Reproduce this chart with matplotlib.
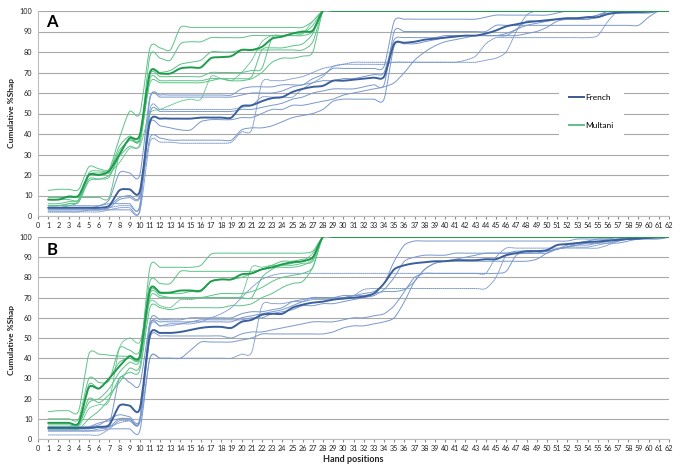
import matplotlib
matplotlib.use('Agg')
import matplotlib.pyplot as plt
from matplotlib.path import Path
from matplotlib.patches import PathPatch
from matplotlib.lines import Line2D
import numpy as np

plt.rcParams['font.family'] = ['Lato', 'DejaVu Sans']

# hand positions 1..62
positions = list(range(1, 63))

# ---------------- Panel A ----------------
french_a_mean = [4, 4, 4, 4, 4, 4, 5, 12.5, 13, 12,
                 46, 47.5, 47.5, 47.5, 47.5, 48, 48, 48, 48, 53.5,
                 54, 56, 57.5, 58, 60.5, 62, 63, 63.5, 66, 66,
                 66.5, 67, 67.5, 68, 84, 84.5, 85, 86, 86.5, 87,
                 87.5, 88, 88, 89, 90.5, 92.5, 93.5, 94.5, 95, 95.5,
                 96, 96.5, 96.5, 97, 97, 98.5, 99.2, 99.4, 99.5, 99.7, 100, 100]

multani_a_mean = [8, 8, 9.5, 10, 20, 20, 22, 30, 38, 39.5,
                  70, 69.5, 69.5, 72, 72.5, 72.5, 77, 77.5, 78, 81,
                  81, 82.5, 86.5, 87.5, 89, 90, 90.5,
                  100, 100, 100, 100, 100, 100, 100, 100, 100, 100,
                  100, 100, 100, 100, 100, 100, 100, 100, 100, 100,
                  100, 100, 100, 100, 100, 100, 100, 100, 100, 100,
                  100, 100, 100, 100, 100]

fr_a1 = [5, 5, 5, 5, 5, 5, 6, 6, 6, 5,
         57, 59, 59, 59, 59, 59, 59, 59, 59, 62,
         63, 63, 63, 64, 64, 64, 67, 69, 72, 72,
         72, 72, 72, 73, 95, 96, 96, 96, 96, 96,
         96, 96, 96, 97, 98, 98, 98, 98, 98, 98,
         99, 100, 100, 100, 100, 100, 100, 100, 100, 100, 100, 100]
fr_a2 = [4, 4, 4, 4, 4, 5, 8, 21, 21, 20,
         58, 58, 58, 58, 58, 58, 58, 58, 58, 59,
         60, 60, 60, 61, 63, 64, 65, 66, 66, 67,
         67, 68, 69, 70, 86, 87, 87, 87, 87, 88,
         88, 88, 88, 88, 88, 88, 91, 95, 95, 95,
         96, 96, 96, 96, 98, 99, 99, 99, 99, 99, 100, 100]
fr_a3 = [2, 2, 2, 2, 3, 3, 4, 5, 5, 5,
         52, 52, 52, 52, 52, 52, 52, 52, 52, 53,
         54, 58, 58, 58, 58, 62, 65, 68, 73, 74,
         75, 75, 75, 75, 75, 75, 75, 75, 75, 75,
         75, 75, 75, 76, 77, 80, 90, 98, 100, 100,
         100, 100, 100, 100, 100, 100, 100, 100, 100, 100, 100, 100]
fr_a4 = [2, 2, 2, 2, 2, 2, 3, 4, 4, 2,
         36, 36, 36, 35.5, 35.5, 35.5, 35.5, 35.5, 36, 41,
         42, 65, 66, 66, 67, 68, 70, 72, 73, 74,
         74, 74, 74, 74, 75, 75, 75, 75, 75, 75,
         75, 76, 78, 84, 87, 87, 87, 87, 87, 87,
         87, 87, 87, 87, 88, 95, 100, 100, 100, 100, 100, 100]
fr_a5 = [3, 3, 3, 3, 3, 3, 4, 8, 9, 9,
         38, 38, 37, 37, 37, 37, 37, 37, 37, 42,
         43, 43, 44, 46, 48, 49, 50, 52, 56, 57,
         57, 57, 57, 57, 83, 84, 84, 85, 86, 87,
         88, 88, 88, 88, 88, 89, 91, 93, 94, 95,
         96, 96, 96, 97, 98, 100, 100, 100, 100, 100, 100, 100]
fr_a6 = [4, 4, 4, 4, 4, 4, 5, 9, 10, 10,
         45, 44, 43, 42, 42, 46, 47, 47, 47, 48,
         48, 50, 52, 52, 54, 54, 55, 56, 57, 59,
         60, 61, 62, 63, 65, 70, 76, 80, 83, 85,
         86, 87, 88, 88, 88, 88, 88, 89, 90, 92,
         95, 96, 96, 96, 97, 100, 100, 100, 100, 100, 100, 100]
fr_a7 = [3, 3, 3, 3, 3, 3, 3, 3, 3, 3,
         50, 51, 51, 51, 51, 51, 51, 51, 51, 52,
         52, 53, 54, 55, 57, 58, 60, 61, 62, 62,
         62, 63, 64, 64, 90, 90, 90, 90, 90, 90,
         90, 90, 90, 90, 93, 93, 93, 93, 93, 93,
         93, 93, 93, 93, 93, 93, 93, 93, 93, 97, 100, 100]

mu_a1 = [12.5, 13, 13, 13, 24, 23, 23, 38, 51, 50,
         82, 82, 81, 92, 92, 92, 92, 92, 92, 92,
         92, 92, 92, 92, 92, 92, 95,
         100, 100, 100, 100, 100, 100, 100, 100, 100, 100,
         100, 100, 100, 100, 100, 100, 100, 100, 100, 100,
         100, 100, 100, 100, 100, 100, 100, 100, 100, 100,
         100, 100, 100, 100, 100]
mu_a2 = [8, 8, 8, 8, 20, 21, 22, 34, 39, 38,
         78, 77, 76, 84, 85, 85, 87, 87, 87, 87,
         88, 88, 88, 88, 89, 89, 93,
         100, 100, 100, 100, 100, 100, 100, 100, 100, 100,
         100, 100, 100, 100, 100, 100, 100, 100, 100, 100,
         100, 100, 100, 100, 100, 100, 100, 100, 100, 100,
         100, 100, 100, 100, 100]
mu_a3 = [5, 5, 6, 7, 17, 18, 19, 30, 38, 37,
         69, 68, 68, 68, 68, 68, 70, 70, 70, 70,
         71, 72, 87, 88, 88, 88, 90,
         100, 100, 100, 100, 100, 100, 100, 100, 100, 100,
         100, 100, 100, 100, 100, 100, 100, 100, 100, 100,
         100, 100, 100, 100, 100, 100, 100, 100, 100, 100,
         100, 100, 100, 100, 100]
mu_a4 = [4, 4, 5, 7, 18, 18, 20, 29, 34, 35,
         67, 66, 66, 66, 66, 66, 67, 67, 67, 67,
         68, 81, 82, 82, 83, 84, 89,
         100, 100, 100, 100, 100, 100, 100, 100, 100, 100,
         100, 100, 100, 100, 100, 100, 100, 100, 100, 100,
         100, 100, 100, 100, 100, 100, 100, 100, 100, 100,
         100, 100, 100, 100, 100]
mu_a5 = [9, 9, 9, 9, 9, 9, 9, 30, 37, 37,
         65, 65, 65, 65, 65, 65, 66, 67, 66, 66,
         67, 70, 75, 77, 77, 78, 80,
         100, 100, 100, 100, 100, 100, 100, 100, 100, 100,
         100, 100, 100, 100, 100, 100, 100, 100, 100, 100,
         100, 100, 100, 100, 100, 100, 100, 100, 100, 100,
         100, 100, 100, 100, 100]
mu_a6 = [5, 5, 6, 7, 20, 20, 21, 26, 33, 34,
         50, 52, 54, 56, 57, 57, 68, 67, 66, 70,
         76, 85, 88, 88, 88, 89, 95,
         100, 100, 100, 100, 100, 100, 100, 100, 100, 100,
         100, 100, 100, 100, 100, 100, 100, 100, 100, 100,
         100, 100, 100, 100, 100, 100, 100, 100, 100, 100,
         100, 100, 100, 100, 100]
mu_a7 = [6, 6, 7, 8, 21, 22, 22, 32, 37, 38,
         70, 70, 71, 74, 75, 76, 80, 80, 80, 81,
         81, 81, 81, 81, 81, 81, 85,
         100, 100, 100, 100, 100, 100, 100, 100, 100, 100,
         100, 100, 100, 100, 100, 100, 100, 100, 100, 100,
         100, 100, 100, 100, 100, 100, 100, 100, 100, 100,
         100, 100, 100, 100, 100]

# ---------------- Panel B ----------------
french_b_mean = [5.5, 5.5, 5.5, 5.5, 5.5, 6, 7, 16.5, 16.5, 15,
                 51.5, 52.5, 52.5, 53, 54, 55, 55.5, 55.5, 55, 58,
                 59, 61.5, 62, 62, 65, 66.5, 67.5, 68, 69, 69.5,
                 70, 70.5, 72, 77, 84, 86, 87, 87.5, 88, 88,
                 88.5, 88.5, 88.5, 89, 89, 91, 92, 93, 93, 93.5,
                 96, 96.5, 97, 97.5, 97.8, 98.2, 98.6, 99, 99.2, 99.5, 99.8, 100]

multani_b_mean = [8, 8, 8, 8, 25.5, 25, 30, 36, 41, 41,
                  74, 72.5, 72.5, 73.5, 73.5, 73.5, 78, 79, 79, 81.5,
                  82, 84, 85, 86.5, 87.5, 88, 90,
                  100, 100, 100, 100, 100, 100, 100, 100, 100, 100,
                  100, 100, 100, 100, 100, 100, 100, 100, 100, 100,
                  100, 100, 100, 100, 100, 100, 100, 100, 100, 100,
                  100, 100, 100, 100, 100]

fr_b1 = [5, 5, 5, 5, 6, 8, 9, 10, 10, 9,
         58, 59, 59, 59, 60, 60, 60, 60, 60, 62,
         63, 63, 64, 65, 68, 69, 70, 70, 70, 71,
         71, 72, 73, 77, 88, 96, 98, 98, 98, 98,
         98, 98, 98, 98, 98, 98, 98, 98, 98, 98,
         98, 98, 99, 99, 99, 99, 99, 100, 100, 100, 100, 100]
fr_b2 = [5, 5, 5, 5, 5, 6, 7, 30, 28, 27,
         57, 58, 58, 58, 58, 59, 59, 59, 59, 59,
         60, 60, 62, 63, 64, 66, 66, 67, 67, 68,
         69, 70, 71, 74, 80, 88, 90, 91, 91, 91,
         92, 92, 92, 92, 92, 92, 92, 92, 92, 92,
         94, 95, 96, 97, 97, 98, 99, 99, 99, 100, 100, 100]
fr_b3 = [2, 2, 2, 2, 2, 2, 5, 9, 9, 8,
         40, 40, 40, 40, 40, 40, 40, 40, 40, 42,
         43, 66, 67, 67, 68, 68, 69, 69, 69, 70,
         71, 74, 74.5, 74.5, 74.5, 74.5, 74.5, 74.5, 74.5, 74.5,
         74.5, 74.5, 74.5, 74.5, 80, 91, 92, 92, 93, 93,
         94, 95, 95, 95, 96, 97, 98, 99, 99, 100, 100, 100]
fr_b4 = [6, 6, 6, 6, 6, 6, 6, 8, 9, 9,
         55, 56, 56, 57, 57, 58, 60, 62, 65, 70,
         75, 79, 81, 82, 82, 82, 82, 82, 82, 82,
         82, 82, 82, 82, 82, 82, 82, 82, 82, 82,
         82, 82, 82, 82, 90, 94.5, 94.5, 94.5, 94.5, 94.5,
         94.5, 94.5, 94.5, 94.5, 94.5, 96, 98, 100, 100, 100, 100, 100]
fr_b5 = [4, 4, 4, 4, 4, 5, 6, 10, 10, 9,
         50, 51, 51, 51, 51, 51, 51, 51, 50, 52,
         53, 53, 54, 55, 56, 57, 58, 58, 58, 59,
         60, 60, 61, 62, 66, 73, 80, 82, 82, 82,
         82, 82, 82, 82, 82, 83, 91, 92, 92, 93,
         94, 95, 97, 98, 99, 99, 100, 100, 100, 100, 100, 100]
fr_b6 = [4, 4, 4, 4, 4, 4, 5, 5, 5, 4,
         40, 40, 40, 40, 44, 48, 48, 48, 48, 49,
         50, 52, 52, 52, 52, 52, 52, 52, 53, 55,
         56, 56, 57, 58, 60, 68, 78, 84, 87, 88,
         88, 88, 88, 88, 88, 88, 88, 88, 89, 92,
         94, 95, 96, 96, 97, 98, 98, 99, 99, 100, 100, 100]
fr_b7 = [6, 6, 6, 6, 6, 7, 10, 12, 11, 10,
         56, 56, 57, 57, 58, 58, 58, 58, 58, 60,
         61, 62, 63, 64, 66, 68, 70, 70, 70, 70,
         71, 71, 72, 73, 73, 74, 78, 84, 87, 88,
         89, 90, 91, 92, 92, 92, 93, 93, 93, 93,
         94, 96, 97, 97, 97, 97, 97, 98, 99, 99, 99, 100]

mu_b1 = [13.5, 14, 14, 14, 42, 42, 41.5, 41, 41, 41,
         85, 85, 85, 85, 85, 86, 91.5, 92, 92, 92,
         92, 92, 92, 92, 92, 92, 93,
         100, 100, 100, 100, 100, 100, 100, 100, 100, 100,
         100, 100, 100, 100, 100, 100, 100, 100, 100, 100,
         100, 100, 100, 100, 100, 100, 100, 100, 100, 100,
         100, 100, 100, 100, 100]
mu_b2 = [10, 10, 10, 10, 30, 28, 29, 45, 44, 44,
         78, 77, 77, 83, 83, 83, 83, 83, 83, 83,
         83, 84, 85, 85, 85, 86, 89,
         100, 100, 100, 100, 100, 100, 100, 100, 100, 100,
         100, 100, 100, 100, 100, 100, 100, 100, 100, 100,
         100, 100, 100, 100, 100, 100, 100, 100, 100, 100,
         100, 100, 100, 100, 100]
mu_b3 = [8, 8, 8, 8, 27, 25, 30, 38, 40, 40,
         73, 72, 72, 72, 73, 73, 78, 79, 79, 80,
         82, 84, 86, 88, 88, 89, 90,
         100, 100, 100, 100, 100, 100, 100, 100, 100, 100,
         100, 100, 100, 100, 100, 100, 100, 100, 100, 100,
         100, 100, 100, 100, 100, 100, 100, 100, 100, 100,
         100, 100, 100, 100, 100]
mu_b4 = [6, 6, 6, 7, 20, 18, 22, 28, 35, 36,
         70, 70, 70, 70, 70, 70, 71, 72, 72, 72,
         73, 75, 78, 80, 81, 82, 85,
         100, 100, 100, 100, 100, 100, 100, 100, 100, 100,
         100, 100, 100, 100, 100, 100, 100, 100, 100, 100,
         100, 100, 100, 100, 100, 100, 100, 100, 100, 100,
         100, 100, 100, 100, 100]
mu_b5 = [5, 5, 5, 6, 15, 17, 19, 45, 50, 48,
         68, 66, 65, 69, 69, 70, 70, 70, 70, 71,
         85, 85, 86, 86, 87, 88, 92,
         100, 100, 100, 100, 100, 100, 100, 100, 100, 100,
         100, 100, 100, 100, 100, 100, 100, 100, 100, 100,
         100, 100, 100, 100, 100, 100, 100, 100, 100, 100,
         100, 100, 100, 100, 100]
mu_b6 = [5, 5, 5, 5, 10, 14, 20, 30, 33, 34,
         65, 65, 64, 65, 65, 65, 65, 65, 66, 66,
         67, 70, 72, 75, 77, 78, 85,
         100, 100, 100, 100, 100, 100, 100, 100, 100, 100,
         100, 100, 100, 100, 100, 100, 100, 100, 100, 100,
         100, 100, 100, 100, 100, 100, 100, 100, 100, 100,
         100, 100, 100, 100, 100]
mu_b7 = [7, 7, 7, 7, 18, 20, 25, 33, 38, 39,
         72, 71, 70, 70, 70, 70, 70, 70, 70, 70,
         70, 80, 84, 86, 86, 87, 88,
         100, 100, 100, 100, 100, 100, 100, 100, 100, 100,
         100, 100, 100, 100, 100, 100, 100, 100, 100, 100,
         100, 100, 100, 100, 100, 100, 100, 100, 100, 100,
         100, 100, 100, 100, 100]

# which of the thin runs are drawn dotted
french_a_runs = [(fr_a1, False), (fr_a2, False), (fr_a3, True), (fr_a4, True),
                 (fr_a5, False), (fr_a6, False), (fr_a7, False)]
multani_a_runs = [(mu_a1, False), (mu_a2, False), (mu_a3, False), (mu_a4, False),
                  (mu_a5, False), (mu_a6, True), (mu_a7, False)]
french_b_runs = [(fr_b1, False), (fr_b2, False), (fr_b3, True), (fr_b4, True),
                 (fr_b5, False), (fr_b6, False), (fr_b7, False)]
multani_b_runs = [(mu_b1, False), (mu_b2, False), (mu_b3, False), (mu_b4, False),
                  (mu_b5, True), (mu_b6, False), (mu_b7, False)]

FR_DARK = '#3a5f9c'
FR_LIGHT = '#7a98cc'
MU_DARK = '#1e9c4c'
MU_LIGHT = '#5cc388'
TENSION = 0.13


def smooth_path(xs, ys):
    # excel-like smoothed line: catmull-rom segments as cubic beziers
    xs = np.asarray(xs, float)
    ys = np.asarray(ys, float)
    assert len(xs) == len(ys)
    n = len(xs)
    verts = [(xs[0], ys[0])]
    codes = [Path.MOVETO]
    for i in range(n - 1):
        i0 = max(i - 1, 0)
        i3 = min(i + 2, n - 1)
        c1 = (xs[i] + (xs[i + 1] - xs[i0]) * TENSION,
              ys[i] + (ys[i + 1] - ys[i0]) * TENSION)
        c2 = (xs[i + 1] - (xs[i3] - xs[i]) * TENSION,
              ys[i + 1] - (ys[i3] - ys[i]) * TENSION)
        verts += [c1, c2, (xs[i + 1], ys[i + 1])]
        codes += [Path.CURVE4] * 3
    return Path(verts, codes)


def draw_line(ax, ys, color, lw, dotted=False, z=2):
    ls = (0, (1, 1)) if dotted else '-'
    ax.add_patch(PathPatch(smooth_path(positions, ys), facecolor='none',
                           edgecolor=color, lw=lw, linestyle=ls, zorder=z,
                           capstyle='round'))


def style_axes(ax):
    ax.set_xlim(0, 62)
    ax.set_ylim(0, 100)
    ax.set_xticks(range(0, 63))
    ax.set_yticks(range(0, 101, 10))
    ax.yaxis.grid(True, color='#a8a8a8', lw=0.8)
    ax.set_axisbelow(True)
    for s in ['top', 'right']:
        ax.spines[s].set_visible(False)
    ax.spines['left'].set_color('#bdbdbd')
    ax.spines['bottom'].set_color('#bdbdbd')
    ax.tick_params(axis='x', labelsize=5.2, length=2.5, color='#8c8c8c', pad=1.5,
                   labelcolor='#222222')
    ax.tick_params(axis='y', labelsize=5.2, length=0, pad=4, labelcolor='#222222')


fig = plt.figure(figsize=(6.83, 4.70), dpi=100)
ax_a = fig.add_axes([38 / 683, 1 - 216 / 470, 631 / 683, 205 / 470])
ax_b = fig.add_axes([38 / 683, 1 - 439 / 470, 631 / 683, 202 / 470])

panels = [
    (ax_a, french_a_runs, multani_a_runs, french_a_mean, multani_a_mean),
    (ax_b, french_b_runs, multani_b_runs, french_b_mean, multani_b_mean),
]
for ax, fr_runs, mu_runs, fr_mean, mu_mean in panels:
    style_axes(ax)
    for ys, dotted in fr_runs:
        draw_line(ax, ys, FR_LIGHT, 0.7, dotted, z=2)
    for ys, dotted in mu_runs:
        draw_line(ax, ys, MU_LIGHT, 0.7, dotted, z=3)
    draw_line(ax, fr_mean, FR_DARK, 1.4, z=4)
    draw_line(ax, mu_mean, MU_DARK, 1.4, z=5)

fig.text(52 / 683, 1 - 22 / 470, 'A', fontsize=12, fontweight='bold',
         ha='center', va='center')
fig.text(52 / 683, 1 - 250 / 470, 'B', fontsize=12, fontweight='bold',
         ha='center', va='center')
fig.text(12 / 683, 1 - 113 / 470, 'Cumulative %Shap', rotation=90, fontsize=6,
         fontweight='bold', ha='center', va='center', color='#222222')
fig.text(12 / 683, 1 - 340 / 470, 'Cumulative %Shap', rotation=90, fontsize=6,
         fontweight='bold', ha='center', va='center', color='#222222')
fig.text(353 / 683, 1 - 459 / 470, 'Hand positions', fontsize=6.5,
         fontweight='bold', ha='center', va='center', color='#222222')

handles = [Line2D([], [], color='#3d5a8f', lw=1.4),
           Line2D([], [], color='#5cc08a', lw=1.4)]
leg = ax_a.legend(handles, ['French', 'Multani'], loc='center',
                  bbox_to_anchor=(0.877, 0.51), fontsize=6, frameon=True,
                  fancybox=False, framealpha=1, edgecolor='none',
                  facecolor='white', labelspacing=2.6, handlelength=1.8,
                  handletextpad=0.15, borderpad=1.2)
leg.set_zorder(10)

fig.savefig('out.png', dpi=100)
